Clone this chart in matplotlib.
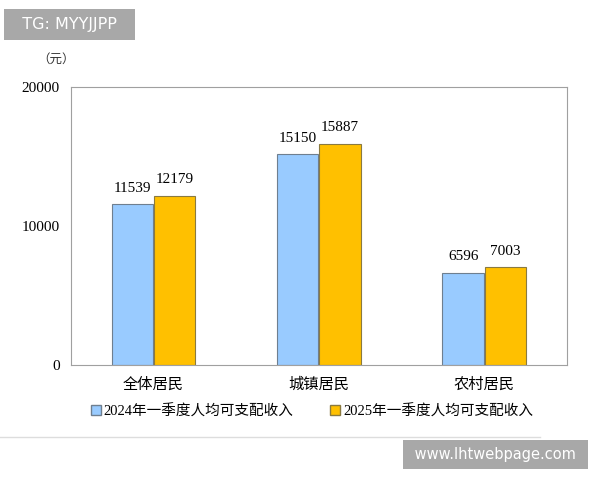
import matplotlib.pyplot as plt
import numpy as np

categories = ["全体居民", "城镇居民", "农村居民"]
income_2024 = [11539, 15150, 6596]
income_2025 = [12179, 15887, 7003]
labels = ["2024年一季度人均可支配收入", "2025年一季度人均可支配收入"]
yticks = [0, 10000, 20000]

CJK = ["Noto Sans CJK SC", "DejaVu Sans"]
SERIF = ["Liberation Serif", "DejaVu Serif"]
MIXED = ["Liberation Serif", "Noto Sans CJK SC"]

fig = plt.figure(figsize=(6, 4.8), dpi=100)
ax = fig.add_axes([0.118, 0.240, 0.827, 0.579])

x = np.arange(len(categories))
w = 0.25
b1 = ax.bar(x - w / 2 - 0.003, income_2024, w, color="#99cbff", edgecolor="#6f7f8f", linewidth=0.8)
b2 = ax.bar(x + w / 2 + 0.003, income_2025, w, color="#ffc000", edgecolor="#8a7a40", linewidth=0.8)
for bars, vals in ((b1, income_2024), (b2, income_2025)):
    for r, v in zip(bars, vals):
        ax.text(r.get_x() + r.get_width() / 2, v + 700, str(v), ha="center", va="bottom",
                fontsize=11, family=SERIF)

ax.set_xlim(-0.5, 2.5)
ax.set_ylim(0, 20000)
ax.set_yticks(yticks)
ax.set_yticklabels([str(t) for t in yticks], family=SERIF, fontsize=11)
ax.set_xticks(x)
ax.set_xticklabels(categories, family=CJK, fontsize=11)
ax.tick_params(length=0, pad=8)
for s in ax.spines.values():
    s.set_color("#a0a0a0")

fig.text(0.062, 0.87, "（元）", family=CJK, fontsize=9, color="#333333")

h1 = plt.Rectangle((0, 0), 1, 1, fc="#99cbff", ec="#6f7f8f")
h2 = plt.Rectangle((0, 0), 1, 1, fc="#ffc000", ec="#8a7a40")
fig.legend([h1, h2], labels, loc="center", bbox_to_anchor=(0.52, 0.143), ncol=2, frameon=False,
           prop={"family": MIXED, "size": 10.5}, handlelength=0.7, handleheight=0.7,
           handletextpad=0.2, columnspacing=2.5)

fig.add_artist(plt.Line2D([0, 0.9], [0.09, 0.09], color="#dddddd", lw=1))
fig.text(0.02, 0.948, "  TG: MYYJJPP  ", color="white", fontsize=11.5, va="center", family="DejaVu Sans",
         bbox=dict(fc="#a8a8a8", ec="none", boxstyle="square,pad=0.5"))
fig.text(0.683, 0.053, " www.lhtwebpage.com ", color="white", fontsize=10.5, va="center", family="DejaVu Sans",
         bbox=dict(fc="#a8a8a8", ec="none", boxstyle="square,pad=0.5"))

fig.savefig("out.png")
